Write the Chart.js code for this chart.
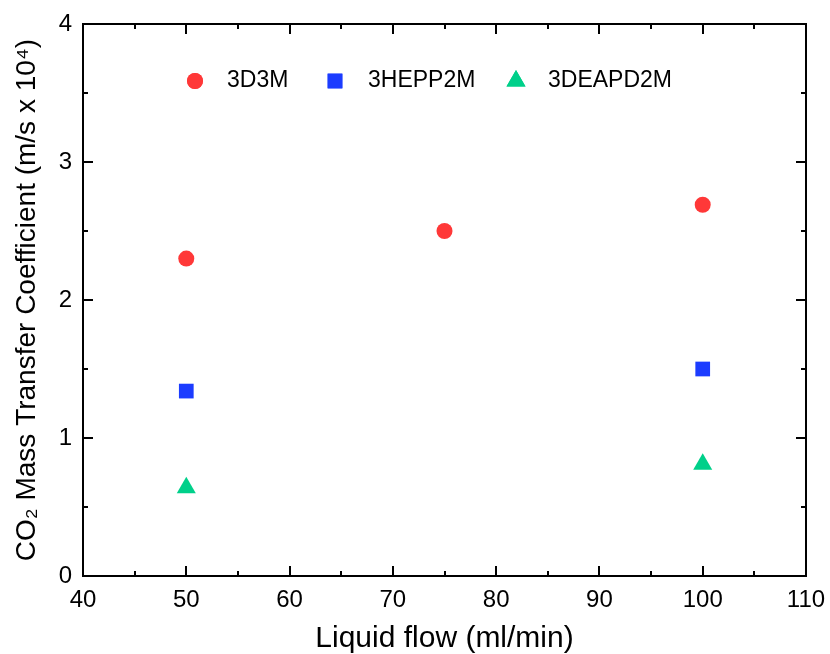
<!DOCTYPE html>
<html lang="en">
  <head>
    <meta charset="UTF-8" />
    <title>CO2 Mass Transfer Coefficient</title>
    <style>
      html, body { margin: 0; padding: 0; background: #fff; }
      #wrap { width: 830px; height: 654px; }
    </style>
  </head>
  <script src="https://cdn.jsdelivr.net/npm/chart.js@4.4.1/dist/chart.umd.min.js"></script>
  <body>
    <div id="wrap"><canvas id="flow-chart" width="830" height="654"></canvas></div>
    <script>
      const seriesNames = ['3D3M', '3HEPP2M', '3DEAPD2M'];
      const flow3D3M = [50, 75, 100];
      const coef3D3M = [2.30, 2.50, 2.69];
      const flow3HEPP2M = [50, 100];
      const coef3HEPP2M = [1.34, 1.50];
      const flow3DEAPD2M = [50, 100];
      const coef3DEAPD2M = [0.64, 0.81];
      const xTicks = [40, 50, 60, 70, 80, 90, 100, 110];
      const yTicks = [0, 1, 2, 3, 4];

      const redColor = '#ff3838';
      const blueColor = '#1c3cff';
      const greenColor = '#00d08a';
      const fontFamily = "'Liberation Sans', Arial, sans-serif";

      const toPoints = (xs, ys) => xs.map((x, i) => ({ x: x, y: ys[i] }));

      // inward major/minor ticks on all four sides plus the box frame
      const frameTicks = {
        id: 'frameTicks',
        afterDraw(chart) {
          const { ctx, chartArea: a, scales } = chart;
          const xs = scales.x;
          const ys = scales.y;
          ctx.save();
          ctx.strokeStyle = '#000';
          ctx.lineWidth = 2;
          ctx.lineCap = 'butt';
          ctx.beginPath();
          for (let v = xs.min; v <= xs.max + 1e-9; v += 5) {
            const px = Math.round(xs.getPixelForValue(v));
            const len = v % 10 === 0 ? 10 : 5;
            ctx.moveTo(px, a.bottom);
            ctx.lineTo(px, a.bottom - len);
            ctx.moveTo(px, a.top);
            ctx.lineTo(px, a.top + len);
          }
          for (let v = ys.min; v <= ys.max + 1e-9; v += 0.5) {
            const py = Math.round(ys.getPixelForValue(v));
            const len = Math.abs(v % 1) < 1e-9 ? 10 : 5;
            ctx.moveTo(a.left, py);
            ctx.lineTo(a.left + len, py);
            ctx.moveTo(a.right, py);
            ctx.lineTo(a.right - len, py);
          }
          ctx.stroke();
          ctx.strokeRect(a.left, a.top, a.right - a.left, a.bottom - a.top);
          ctx.restore();
        }
      };

      // legend drawn inside the plot area
      const innerLegend = {
        id: 'innerLegend',
        afterDraw(chart, args, opts) {
          const { ctx } = chart;
          ctx.save();
          ctx.font = '23px ' + fontFamily;
          ctx.textBaseline = 'middle';
          chart.data.datasets.forEach((ds, i) => {
            const my = opts.y;
            ctx.fillStyle = ds.backgroundColor;
            Chart.helpers.drawPoint(ctx, {
              pointStyle: ds.pointStyle,
              radius: ds.pointRadius,
              rotation: 0,
              borderWidth: 0
            }, opts.markerX[i], my);
            ctx.fill();
            ctx.fillStyle = '#000';
            ctx.fillText(ds.label, opts.textX[i], my);
          });
          ctx.restore();
        }
      };

      const ctx = document.getElementById('flow-chart').getContext('2d');

      new Chart(ctx, {
        type: 'scatter',
        data: {
          datasets: [
            {
              label: seriesNames[0],
              data: toPoints(flow3D3M, coef3D3M),
              pointStyle: 'circle',
              pointRadius: 8,
              pointHoverRadius: 8,
              borderWidth: 0,
              backgroundColor: redColor,
              borderColor: redColor
            },
            {
              label: seriesNames[1],
              data: toPoints(flow3HEPP2M, coef3HEPP2M),
              pointStyle: 'rect',
              pointRadius: 10.4,
              pointHoverRadius: 10.4,
              borderWidth: 0,
              backgroundColor: blueColor,
              borderColor: blueColor
            },
            {
              label: seriesNames[2],
              data: toPoints(flow3DEAPD2M, coef3DEAPD2M),
              pointStyle: 'triangle',
              pointRadius: 11,
              pointHoverRadius: 11,
              borderWidth: 0,
              backgroundColor: greenColor,
              borderColor: greenColor
            }
          ]
        },
        options: {
          responsive: false,
          animation: false,
          layout: {
            padding: { left: 0, top: 24, right: 24, bottom: 0 }
          },
          plugins: {
            legend: { display: false },
            tooltip: { enabled: false },
            innerLegend: {
              y: 81,
              markerX: [195, 335, 516],
              textX: [227, 368, 548]
            }
          },
          scales: {
            x: {
              type: 'linear',
              min: 40,
              max: 110,
              afterBuildTicks: (scale) => {
                scale.ticks = xTicks.map((v) => ({ value: v }));
              },
              afterFit: (scale) => {
                scale.height = 78;
                scale.paddingLeft = 0;
                scale.paddingRight = 0;
              },
              grid: { display: false, drawTicks: false },
              border: { display: false },
              ticks: {
                color: '#000',
                padding: 10,
                maxRotation: 0,
                font: { family: fontFamily, size: 24 }
              },
              title: {
                display: true,
                text: 'Liquid flow (ml/min)',
                color: '#000',
                padding: { top: 0, bottom: 0 },
                font: { family: fontFamily, size: 30, lineHeight: 1 }
              }
            },
            y: {
              type: 'linear',
              min: 0,
              max: 4,
              afterBuildTicks: (scale) => {
                scale.ticks = yTicks.map((v) => ({ value: v }));
              },
              afterFit: (scale) => {
                scale.width = 83;
                scale.paddingTop = 0;
                scale.paddingBottom = 0;
              },
              grid: { display: false, drawTicks: false },
              border: { display: false },
              ticks: {
                color: '#000',
                padding: 11,
                font: { family: fontFamily, size: 24 }
              },
              title: {
                display: true,
                text: 'CO\u2082 Mass Transfer Coefficient (m/s x 10\u2074)',
                color: '#000',
                padding: { top: 13, bottom: 0 },
                font: { family: fontFamily, size: 28, lineHeight: 1 }
              }
            }
          }
        },
        plugins: [frameTicks, innerLegend]
      });
    </script>
  </body>
</html>
